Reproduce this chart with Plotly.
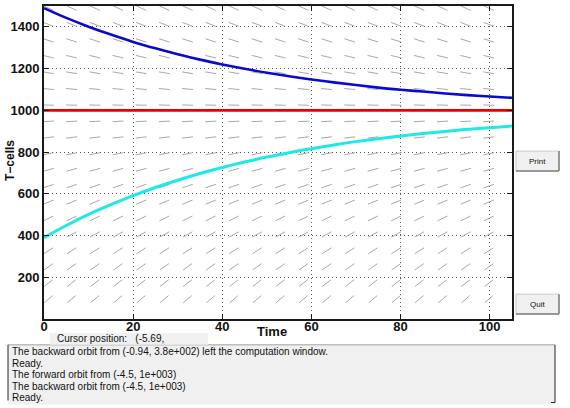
import plotly.graph_objects as go
import math

# ---------------- data ----------------
time_pts = [0, 5, 10, 15, 20, 25, 30, 35, 40, 45, 50, 55, 60, 65, 70, 75, 80, 85, 90, 95, 100, 105]
upper_orbit = [1490, 1443, 1401, 1363, 1328, 1297, 1269, 1243, 1220, 1199, 1180, 1163, 1148, 1134,
               1121, 1109, 1099, 1090, 1081, 1073, 1066, 1060]
lower_orbit = [390, 448, 501, 548, 591, 630, 665, 697, 726, 752, 776, 797, 816, 834,
               850, 864, 877, 889, 899, 909, 917, 925]
equilibrium_t = [0, 105]
equilibrium_T = [1000, 1000]

# direction field: column times, row T-values, slope dT/dt at each row
field_cols = [1.0 + 5.2 * i for i in range(20)]
field_rows = [95, 172, 250, 327, 405, 482, 560, 637, 715, 792, 870, 947, 1025, 1102,
              1180, 1257, 1335, 1412, 1490]
field_slopes = [18.1, 16.6, 15.0, 13.5, 11.9, 10.4, 8.8, 7.3, 5.7, 4.2, 2.6, 1.1, -0.5, -2.0,
                -3.6, -5.1, -6.7, -8.2, -9.8]

x_ticks = [0, 20, 40, 60, 80, 100]
y_ticks = [200, 400, 600, 800, 1000, 1200, 1400]
x_range = [0, 105]
y_range = [0, 1500]

status_lines = [
    "The backward orbit from (-0.94, 3.8e+002) left the computation window.",
    "Ready.",
    "The forward orbit from (-4.5, 1e+003)",
    "The backward orbit from (-4.5, 1e+003)",
    "Ready.",
]

# ---------------- layout geometry ----------------
W, H = 570, 408
L, R, T, B = 44, 512, 4, 319
pw, ph = R - L, B - T
pxu_x = pw / (x_range[1] - x_range[0])
pxu_y = ph / (y_range[1] - y_range[0])


def px(x):
    return (x - L) / pw


def py(y):
    return (B - y) / ph


fig = go.Figure()

# direction field segments
seg_x, seg_y = [], []
half = 5.5
for Tv, s in zip(field_rows, field_slopes):
    vx, vy = pxu_x, s * pxu_y
    n = math.hypot(vx, vy)
    dx = half * vx / n / pxu_x
    dy = half * vy / n / pxu_y
    for tc in field_cols:
        seg_x += [tc - dx, tc + dx, None]
        seg_y += [Tv - dy, Tv + dy, None]
fig.add_trace(go.Scatter(x=seg_x, y=seg_y, mode="lines",
                         line=dict(color="#a8a8a8", width=1), hoverinfo="skip"))

fig.add_trace(go.Scatter(x=equilibrium_t, y=equilibrium_T, mode="lines",
                         line=dict(color="#e80000", width=2.6)))
fig.add_trace(go.Scatter(x=time_pts, y=upper_orbit, mode="lines", line_shape="spline",
                         line=dict(color="#0a0acc", width=2.6)))
fig.add_trace(go.Scatter(x=time_pts, y=lower_orbit, mode="lines", line_shape="spline",
                         line=dict(color="#1ee8e8", width=3)))

axis_common = dict(
    showline=True, linecolor="#1a1a1a", linewidth=2, mirror="allticks",
    ticks="inside", ticklen=5, tickcolor="#1a1a1a", tickwidth=1,
    showgrid=True, gridcolor="#555555", griddash="1px,3px", gridwidth=1,
    zeroline=False,
    tickfont=dict(family="Liberation Sans", size=13, color="#111111", weight="bold"),
)

fig.update_layout(
    width=W, height=H,
    margin=dict(l=L, r=W - R, t=T, b=H - B),
    paper_bgcolor="white", plot_bgcolor="white",
    showlegend=False,
    xaxis=dict(range=x_range, tickvals=x_ticks, ticktext=[str(v) for v in x_ticks],
               ticklabelstandoff=-6, **axis_common),
    yaxis=dict(range=y_range, tickvals=y_ticks, ticktext=[str(v) for v in y_ticks], **axis_common),
)

shapes = []
annotations = []

# axis titles
annotations.append(dict(x=px(272), y=py(332), xref="paper", yref="paper", text="<b>Time</b>",
                        xanchor="center", yanchor="middle", showarrow=False,
                        font=dict(family="Liberation Sans", size=13, color="#111")))
annotations.append(dict(x=px(10), y=py(160), xref="paper", yref="paper", text="<b>T\u2212cells</b>",
                        textangle=-90, xanchor="center", yanchor="middle", showarrow=False,
                        font=dict(family="Liberation Sans", size=12, color="#111")))

# status panel
shapes.append(dict(type="rect", xref="paper", yref="paper", x0=px(8), x1=px(555), y0=py(405), y1=py(345),
                   fillcolor="#f0f0f0", line=dict(width=0), layer="above"))
shapes.append(dict(type="line", xref="paper", yref="paper", x0=px(8), x1=px(555), y0=py(345), y1=py(345),
                   line=dict(color="#a0a0a0", width=1), layer="above"))
shapes.append(dict(type="line", xref="paper", yref="paper", x0=px(8), x1=px(8), y0=py(345), y1=py(401),
                   line=dict(color="#222", width=1), layer="above"))
shapes.append(dict(type="line", xref="paper", yref="paper", x0=px(555), x1=px(555), y0=py(345), y1=py(403),
                   line=dict(color="#222", width=1), layer="above"))
shapes.append(dict(type="line", xref="paper", yref="paper", x0=px(551), x1=px(555), y0=py(403), y1=py(403),
                   line=dict(color="#222", width=1), layer="above"))
line_y = [352, 364, 375, 387, 398]
for txt, yy in zip(status_lines, line_y):
    annotations.append(dict(x=px(10), y=py(yy), xref="paper", yref="paper", text=txt,
                            xanchor="left", yanchor="middle", showarrow=False,
                            font=dict(family="Liberation Sans", size=10, color="#111")))

# cursor position box
shapes.append(dict(type="rect", xref="paper", yref="paper", x0=px(50), x1=px(208), y0=py(345), y1=py(333),
                   fillcolor="#f0f0f0", line=dict(width=0), layer="above"))
annotations.append(dict(x=px(55), y=py(338.5), xref="paper", yref="paper",
                        text="Cursor position:   (-5.69,",
                        xanchor="left", yanchor="middle", showarrow=False,
                        font=dict(family="Liberation Sans", size=10, color="#111")))

# buttons
for label, y0, y1 in [("Print", 150, 170), ("Quit", 294, 314)]:
    shapes.append(dict(type="rect", xref="paper", yref="paper", x0=px(516), x1=px(559), y0=py(y1), y1=py(y0),
                       fillcolor="#f0f0f0", line=dict(color="#c8c8c8", width=1), layer="above"))
    shapes.append(dict(type="line", xref="paper", yref="paper", x0=px(559), x1=px(559), y0=py(y1), y1=py(y0),
                       line=dict(color="#808080", width=1.5), layer="above"))
    shapes.append(dict(type="line", xref="paper", yref="paper", x0=px(516), x1=px(559), y0=py(y1), y1=py(y1),
                       line=dict(color="#808080", width=1.5), layer="above"))
    annotations.append(dict(x=px(537.5), y=py((y0 + y1) / 2), xref="paper", yref="paper", text=label,
                            showarrow=False, xanchor="center", yanchor="middle",
                            font=dict(family="Liberation Sans", size=8, color="#111")))

fig.update_layout(shapes=shapes, annotations=annotations)
fig.write_html("out.html")
